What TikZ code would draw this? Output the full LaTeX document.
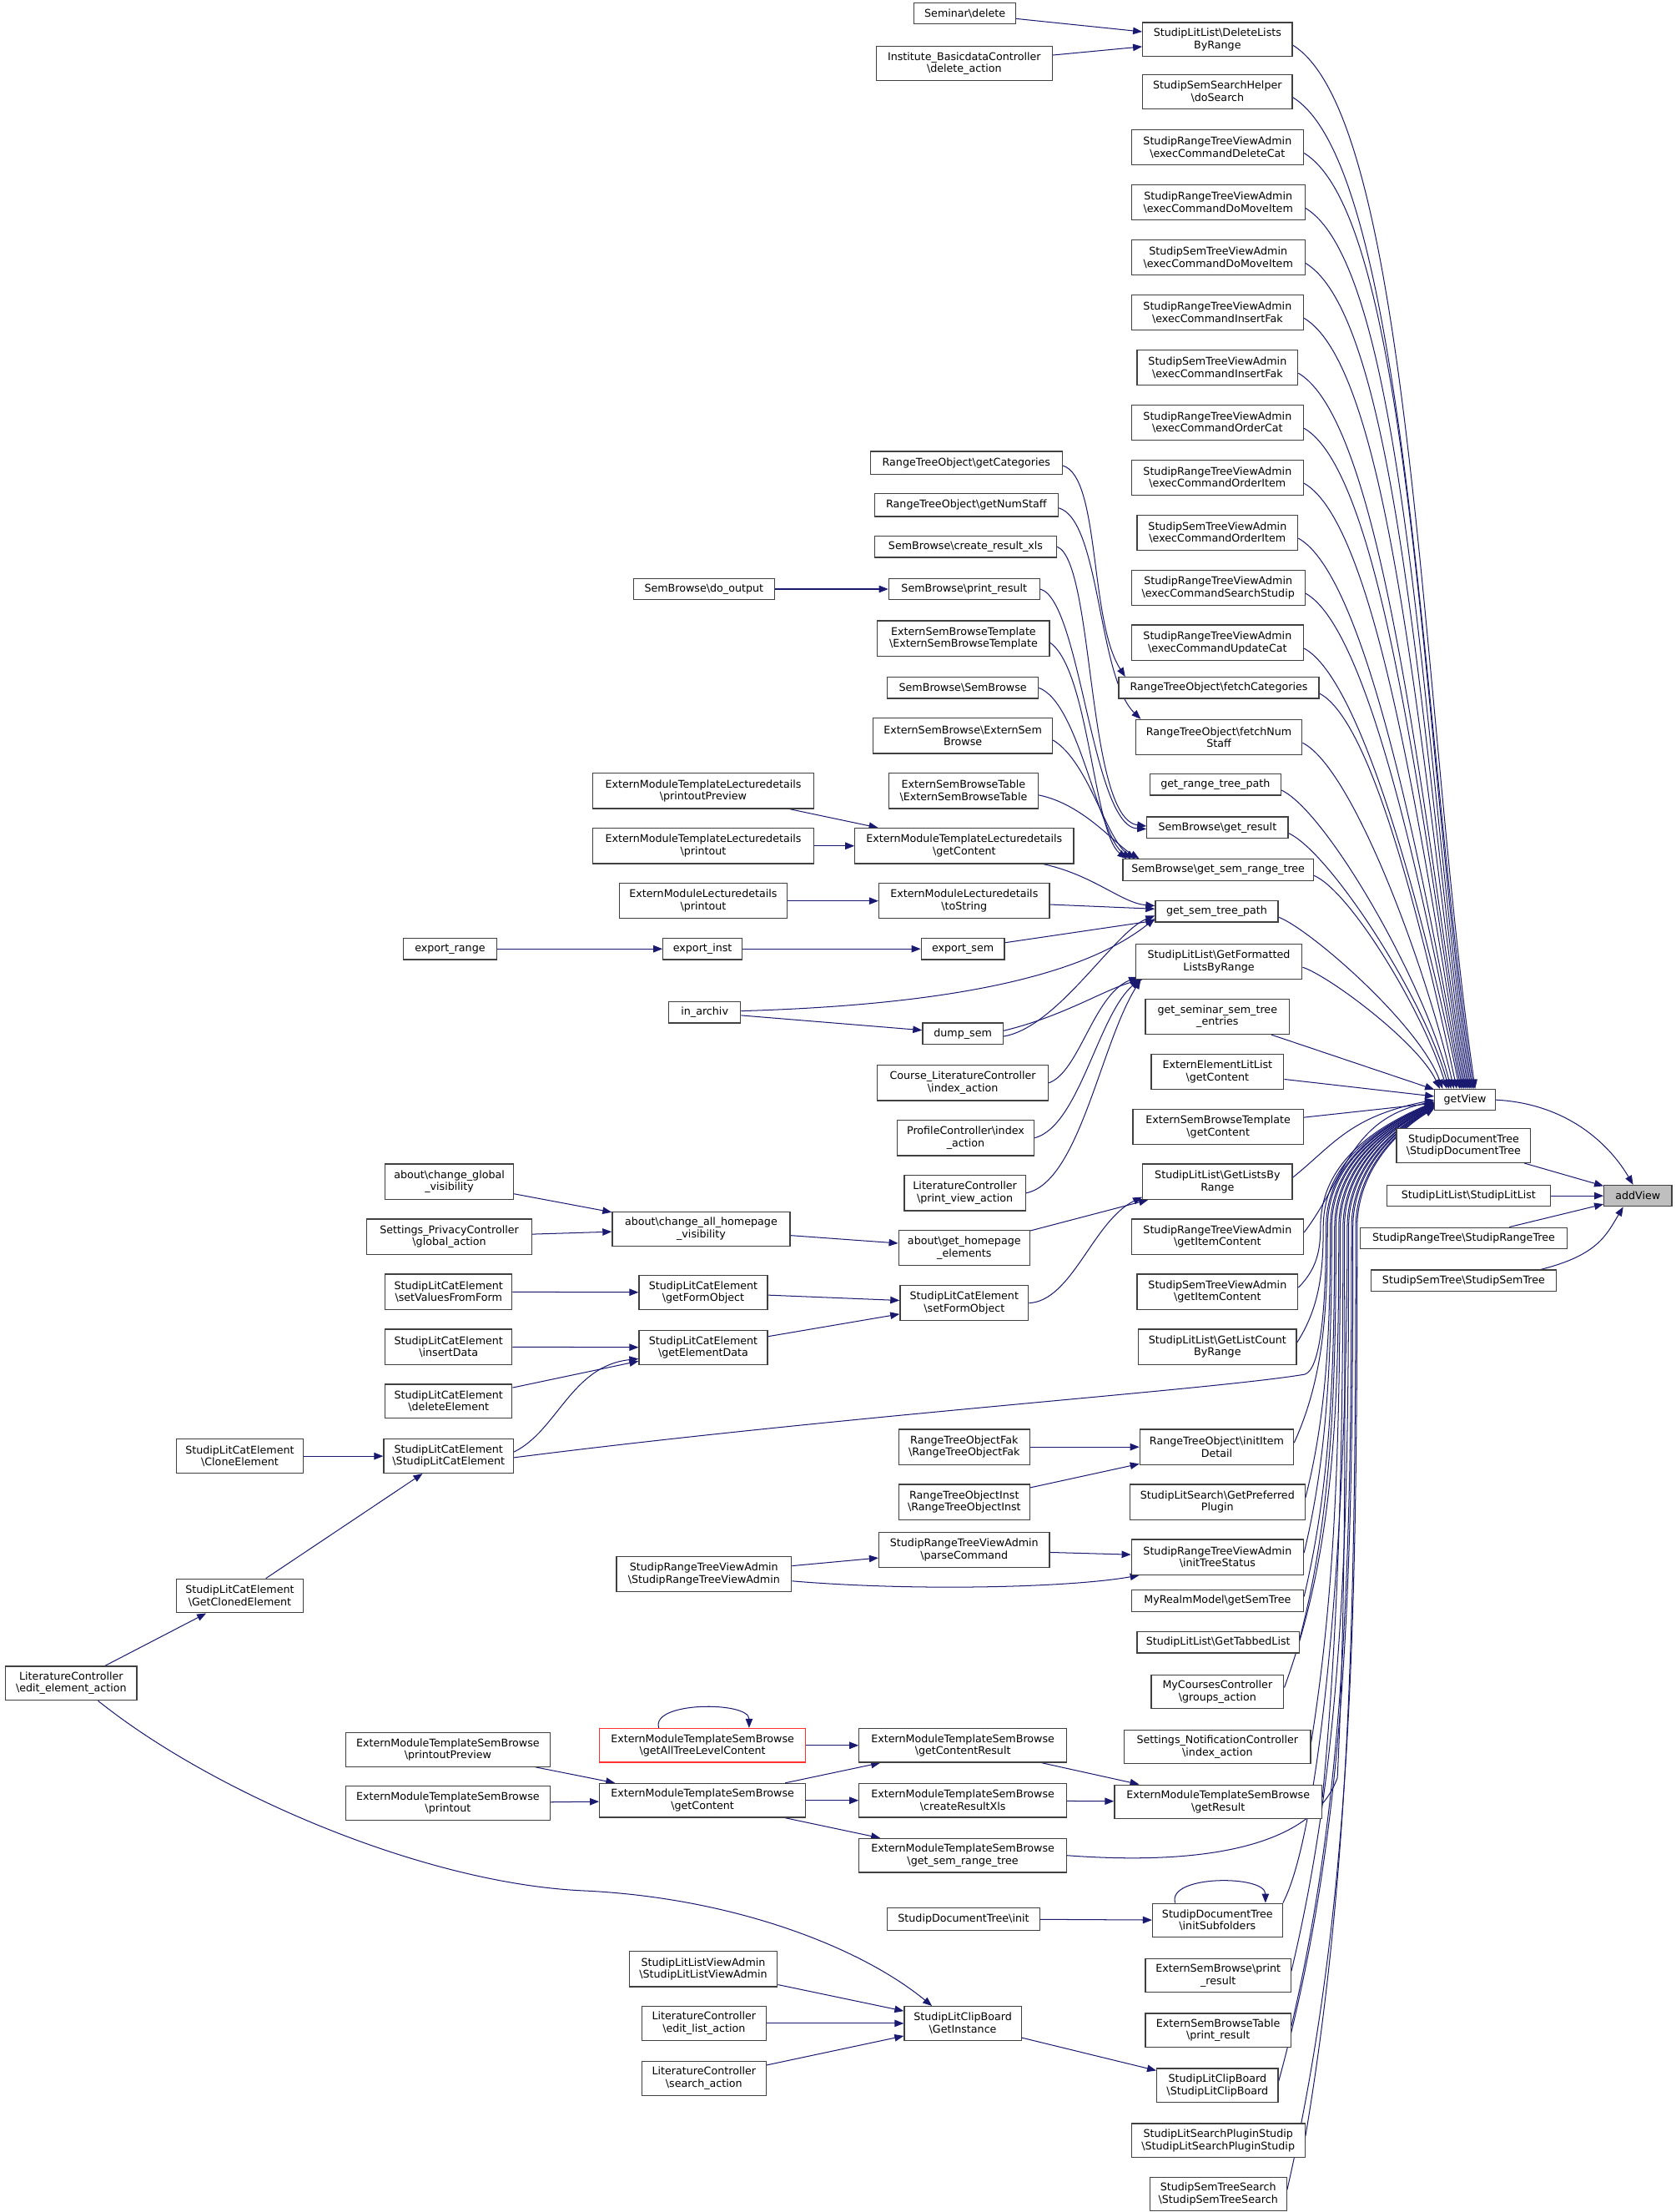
\documentclass[tikz,border=0pt]{standalone}
\usepackage{fontspec}
\newfontfamily\dvs{DejaVu Sans}
\usetikzlibrary{arrows.meta}
\pgfdeclarelayer{edgelayer}
\pgfsetlayers{edgelayer,main}
\definecolor{edgeblue}{HTML}{191970}
\definecolor{nodeborder}{HTML}{404040}
\definecolor{truncred}{HTML}{FF3030}
\newcommand\dgfont{\dvs\fontsize{7.5}{8.6}\selectfont}
\newcommand\bsl{\textbackslash}
\newcommand\bx[6]{\node[bx,minimum width=#4pt,minimum height=#5pt] (#1) at (#2,-#3) {#6};}
\newcommand\upe[3]{\draw[e] ([yshift=-4pt]#1.east) .. controls +({0.1*#3+10},{-0.07*#3}) and +({-0.035*#3-12},{0.36*#3}) .. ([xshift=#2pt]getView.north west);}
\newcommand\loe[3]{\draw[e] ([yshift=3pt]#1.east) .. controls +({28+0.015*#3},{0.4*#3}) and +(-60,{-0.03*#3-10}) .. ([yshift=#2pt]getView.west);}
\newcommand\lwe[4]{\draw[e] ([yshift=3pt]#1.east) .. controls ({#2-3},{-#3+3+0.3*(#3-873)}) and (#2,{-870-0.4*(#3-873)}) .. (#2,-870) .. controls (#2,-835) and ({#2+22},-806) .. ([yshift=#4pt]getView.west);}
\begin{document}
\begin{tikzpicture}[x=1pt,y=1pt,
  bx/.style={draw=nodeborder, line width=0.75pt, fill=white, inner xsep=1pt, inner ysep=0.5pt, align=center, font=\dgfont},
  e/.style={draw=edgeblue, line width=0.6pt, -{Triangle[length=6.5pt,width=5pt]}}]
\useasboundingbox (0,0) rectangle (1188,-1567.7);
% right
\node[bx,fill=black!25,minimum width=48pt,minimum height=15pt] (addView) at (1161,-847.5) {addView};
\bx{getView}{1038.5}{779.5}{43}{15}{getView}
\bx{sdt}{1037.5}{812}{95}{24}{StudipDocumentTree\\\bsl StudipDocumentTree}
\bx{sll}{1041}{847.5}{116}{15}{StudipLitList\bsl StudipLitList}
\bx{srt}{1037.5}{877.5}{147}{15}{StudipRangeTree\bsl StudipRangeTree}
\bx{sst}{1037.5}{907.5}{131}{15}{StudipSemTree\bsl StudipSemTree}
% column 3
\bx{dlbr}{863}{28}{106}{24}{StudipLitList\bsl DeleteLists\\ByRange}
\bx{ssh}{863}{65}{106}{24}{StudipSemSearchHelper\\\bsl doSearch}
\bx{ecdc}{863}{104.5}{122}{25}{StudipRangeTreeViewAdmin\\\bsl execCommandDeleteCat}
\bx{ecdma}{863.5}{143.5}{123}{25}{StudipRangeTreeViewAdmin\\\bsl execCommandDoMoveItem}
\bx{ecdmb}{863.5}{182.5}{123}{25}{StudipSemTreeViewAdmin\\\bsl execCommandDoMoveItem}
\bx{ecifa}{863}{221.5}{122}{25}{StudipRangeTreeViewAdmin\\\bsl execCommandInsertFak}
\bx{ecifb}{863}{260.5}{114}{25}{StudipSemTreeViewAdmin\\\bsl execCommandInsertFak}
\bx{ecoc}{863}{299.5}{122}{25}{StudipRangeTreeViewAdmin\\\bsl execCommandOrderCat}
\bx{ecoia}{863}{338.5}{122}{25}{StudipRangeTreeViewAdmin\\\bsl execCommandOrderItem}
\bx{ecoib}{863}{377.5}{114}{25}{StudipSemTreeViewAdmin\\\bsl execCommandOrderItem}
\bx{ecss}{863.5}{416.5}{123}{25}{StudipRangeTreeViewAdmin\\\bsl execCommandSearchStudip}
\bx{ecuc}{863}{455.5}{122}{25}{StudipRangeTreeViewAdmin\\\bsl execCommandUpdateCat}
\bx{fcat}{864}{487.5}{142}{15}{RangeTreeObject\bsl fetchCategories}
\bx{fns}{864}{522.5}{118}{25}{RangeTreeObject\bsl fetchNum\\Staff}
\bx{grtp}{861.5}{556}{93}{15}{get\_range\_tree\_path}
\bx{sbgr}{863}{586.5}{100}{15}{SemBrowse\bsl get\_result}
\bx{sbgsrt}{863.5}{616.5}{135}{15}{SemBrowse\bsl get\_sem\_range\_tree}
\bx{gstp}{862.5}{646}{87}{15}{get\_sem\_tree\_path}
\bx{gflbr}{864}{681.5}{118}{25}{StudipLitList\bsl GetFormatted\\ListsByRange}
\bx{gsste}{863}{720.5}{102}{25}{get\_seminar\_sem\_tree\\\_entries}
\bx{eell}{863}{759.5}{94}{25}{ExternElementLitList\\\bsl getContent}
\bx{esbtgc}{863.5}{798.5}{121}{25}{ExternSemBrowseTemplate\\\bsl getContent}
\bx{glbr}{863}{837.5}{106}{25}{StudipLitList\bsl GetListsBy\\Range}
\bx{rgic}{863}{876.5}{122}{25}{StudipRangeTreeViewAdmin\\\bsl getItemContent}
\bx{sgic}{863}{915.5}{114}{25}{StudipSemTreeViewAdmin\\\bsl getItemContent}
\bx{glcbr}{863}{954.5}{112}{25}{StudipLitList\bsl GetListCount\\ByRange}
\bx{iid}{862.5}{1025.5}{109}{25}{RangeTreeObject\bsl initItem\\Detail}
\bx{gpp}{863}{1064.5}{124}{25}{StudipLitSearch\bsl GetPreferred\\Plugin}
\bx{its}{863}{1103.5}{122}{25}{StudipRangeTreeViewAdmin\\\bsl initTreeStatus}
\bx{mrm}{863}{1134.5}{122}{15}{MyRealmModel\bsl getSemTree}
\bx{gtl}{863.5}{1164}{115}{15}{StudipLitList\bsl GetTabbedList}
\bx{mcc}{863}{1199}{94}{24}{MyCoursesController\\\bsl groups\_action}
\bx{snc}{863}{1238}{132}{24}{Settings\_NotificationController\\\bsl index\_action}
\bx{gres}{863.5}{1277}{147}{24}{ExternModuleTemplateSemBrowse\\\bsl getResult}
\bx{isf}{863}{1361}{92}{24}{StudipDocumentTree\\\bsl initSubfolders}
\bx{espr}{863.5}{1400}{103}{24}{ExternSemBrowse\bsl print\\\_result}
\bx{esbtpr}{863.5}{1439}{103}{24}{ExternSemBrowseTable\\\bsl print\_result}
\bx{slcb}{863}{1478}{86}{24}{StudipLitClipBoard\\\bsl StudipLitClipBoard}
\bx{slsps}{863.5}{1517}{123}{24}{StudipLitSearchPluginStudip\\\bsl StudipLitSearchPluginStudip}
\bx{ssts}{863.5}{1555}{97}{24}{StudipSemTreeSearch\\\bsl StudipSemTreeSearch}
% column 2
\bx{sdel}{684}{9.5}{72}{15}{Seminar\bsl delete}
\bx{ibc}{683.5}{45}{125}{24}{Institute\_BasicdataController\\\bsl delete\_action}
\bx{rgc}{685}{328}{136}{16}{RangeTreeObject\bsl getCategories}
\bx{rgns}{685}{358}{130}{16}{RangeTreeObject\bsl getNumStaff}
\bx{sbcrx}{684.5}{387.5}{129}{15}{SemBrowse\bsl create\_result\_xls}
\bx{sbpr}{683.5}{417.5}{107}{15}{SemBrowse\bsl print\_result}
\bx{esbt}{683}{452.5}{122}{25}{ExternSemBrowseTemplate\\\bsl ExternSemBrowseTemplate}
\bx{sbsb}{682.5}{487.5}{107}{15}{SemBrowse\bsl SemBrowse}
\bx{esb}{682.5}{521.5}{127}{25}{ExternSemBrowse\bsl ExternSem\\Browse}
\bx{esbtab}{683}{560.5}{106}{25}{ExternSemBrowseTable\\\bsl ExternSemBrowseTable}
\bx{emtlgc}{683.5}{599.5}{155}{25}{ExternModuleTemplateLecturedetails\\\bsl getContent}
\bx{emlts}{683.5}{638.5}{121}{25}{ExternModuleLecturedetails\\\bsl toString}
\bx{esem}{682.5}{672.5}{59}{15}{export\_sem}
\bx{dsem}{682.5}{732.5}{57}{15}{dump\_sem}
\bx{clc}{682.5}{767.5}{121}{25}{Course\_LiteratureController\\\bsl index\_action}
\bx{pc}{684.5}{806.5}{97}{25}{ProfileController\bsl index\\\_action}
\bx{lcpv}{684}{845.5}{86}{25}{LiteratureController\\\bsl print\_view\_action}
\bx{ghe}{683.5}{884.5}{93}{25}{about\bsl get\_homepage\\\_elements}
\bx{sfo}{683.5}{923.5}{91}{25}{StudipLitCatElement\\\bsl setFormObject}
\bx{rtof}{683.5}{1025.5}{93}{25}{RangeTreeObjectFak\\\bsl RangeTreeObjectFak}
\bx{rtoi}{683.5}{1064.5}{93}{25}{RangeTreeObjectInst\\\bsl RangeTreeObjectInst}
\bx{pcmd}{683.5}{1098.5}{121}{25}{StudipRangeTreeViewAdmin\\\bsl parseCommand}
\bx{gcr}{682.5}{1237}{147}{24}{ExternModuleTemplateSemBrowse\\\bsl getContentResult}
\bx{crx}{682.5}{1276}{147}{24}{ExternModuleTemplateSemBrowse\\\bsl createResultXls}
\bx{emgsrt}{682.5}{1315}{147}{24}{ExternModuleTemplateSemBrowse\\\bsl get\_sem\_range\_tree}
\bx{sdti}{683}{1360}{108}{16}{StudipDocumentTree\bsl init}
\bx{gi}{682.5}{1434}{83}{24}{StudipLitClipBoard\\\bsl GetInstance}
% column 1
\bx{sbdo}{499}{417.5}{100}{15}{SemBrowse\bsl do\_output}
\bx{emtlpp}{498.5}{560.5}{157}{25}{ExternModuleTemplateLecturedetails\\\bsl printoutPreview}
\bx{emtlp}{498.5}{599.5}{157}{25}{ExternModuleTemplateLecturedetails\\\bsl printout}
\bx{emlp}{498.5}{638.5}{119}{25}{ExternModuleLecturedetails\\\bsl printout}
\bx{einst}{498}{672.5}{56}{15}{export\_inst}
\bx{inarch}{499.5}{717.5}{51}{15}{in\_archiv}
\bx{cahv}{497}{871}{126}{24}{about\bsl change\_all\_homepage\\\_visibility}
\bx{gfo}{498.5}{916}{91}{24}{StudipLitCatElement\\\bsl getFormObject}
\bx{ged}{498.5}{955}{91}{24}{StudipLitCatElement\\\bsl getElementData}
\bx{srtva}{499}{1115.5}{124}{25}{StudipRangeTreeViewAdmin\\\bsl StudipRangeTreeViewAdmin}
\node[bx,draw=truncred,minimum width=146pt,minimum height=24pt] (gatlc) at (498,-1237) {ExternModuleTemplateSemBrowse\\\bsl getAllTreeLevelContent};
\bx{emgc}{498}{1276}{146}{24}{ExternModuleTemplateSemBrowse\\\bsl getContent}
\bx{sllva}{498.5}{1395.5}{105}{25}{StudipLitListViewAdmin\\\bsl StudipLitListViewAdmin}
\bx{lcel}{499}{1434}{88}{24}{LiteratureController\\\bsl edit\_list\_action}
\bx{lcsa}{499}{1473}{88}{24}{LiteratureController\\\bsl search\_action}
% column 0
\bx{erange}{319}{672.5}{66}{15}{export\_range}
\bx{cgv}{318.5}{837.5}{91}{25}{about\bsl change\_global\\\_visibility}
\bx{spc}{318.5}{876.5}{117}{25}{Settings\_PrivacyController\\\bsl global\_action}
\bx{svff}{318}{915.5}{90}{25}{StudipLitCatElement\\\bsl setValuesFromForm}
\bx{insd}{318}{954.5}{90}{25}{StudipLitCatElement\\\bsl insertData}
\bx{dele}{318}{993}{90}{24}{StudipLitCatElement\\\bsl deleteElement}
\bx{slce}{318}{1032}{92}{24}{StudipLitCatElement\\\bsl StudipLitCatElement}
\bx{emtspp}{317.5}{1240}{145}{24}{ExternModuleTemplateSemBrowse\\\bsl printoutPreview}
\bx{emtsp}{317.5}{1278}{145}{24}{ExternModuleTemplateSemBrowse\\\bsl printout}
% columns -1, -2
\bx{clone}{170}{1032}{90}{24}{StudipLitCatElement\\\bsl CloneElement}
\bx{gcl}{170}{1131}{90}{24}{StudipLitCatElement\\\bsl GetClonedElement}
\bx{eea}{50.5}{1193}{93}{24}{LiteratureController\\\bsl edit\_element\_action}

\begin{pgfonlayer}{edgelayer}
% ===== edges to addView
\draw[e] (getView.east) .. controls +(55,-3) and +(-14,24) .. ([xshift=21pt]addView.north west);
\draw[e] (sdt) -- (addView);
\draw[e] (sll) -- (addView);
\draw[e] (srt) -- (addView);
\draw[e] ([xshift=-11pt]sst.north east) .. controls +(40,10) and +(-12,-20) .. ([xshift=14pt]addView.south west);

% ===== upper group into getView
\upe{dlbr}{29}{744}
\upe{ssh}{28}{707}
\upe{ecdc}{27}{667.5}
\upe{ecdma}{26}{628.5}
\upe{ecdmb}{25}{589.5}
\upe{ecifa}{24}{550.5}
\upe{ecifb}{23}{511.5}
\upe{ecoc}{22}{472.5}
\upe{ecoia}{21}{433.5}
\upe{ecoib}{20}{394.5}
\upe{ecss}{19}{355.5}
\upe{ecuc}{18}{316.5}
\upe{fcat}{16}{284.5}
\upe{fns}{14}{249.5}
\upe{grtp}{12}{216}
\upe{sbgr}{10.5}{185.5}
\upe{sbgsrt}{9}{155.5}
\upe{gstp}{6}{126}
\upe{gflbr}{4}{90.5}
\draw[e] (gsste) -- (getView);
\draw[e] (eell) -- (getView);
\draw[e] (esbtgc) -- (getView);

% ===== lower group into getView
\loe{glbr}{0}{58}
\loe{rgic}{-1}{97}
\lwe{sgic}{936}{915.5}{-1.5}
\lwe{glcbr}{938}{954.5}{-2}
\lwe{iid}{941}{1025.5}{-2.5}
\lwe{gpp}{943}{1064.5}{-3}
\lwe{its}{944}{1103.5}{-3}
\lwe{mrm}{946}{1134.5}{-3.5}
\lwe{gtl}{947}{1164}{-3.5}
\lwe{mcc}{949}{1199}{-4}
\lwe{snc}{950}{1238}{-4}
\lwe{gres}{952}{1277}{-4.5}
\draw[e] (isf.north east) .. controls (935,-1300) and (955,-1100) .. (955,-870) .. controls (955,-835) and (977,-806) .. ([yshift=-4.5pt]getView.west);
\lwe{espr}{956}{1400}{-5}
\lwe{esbtpr}{958}{1439}{-5}
\lwe{slcb}{959}{1478}{-5.5}
\lwe{slsps}{961}{1517}{-5.5}
\lwe{ssts}{962}{1555}{-6}
\draw[e] ([yshift=-1pt]slce.east) .. controls (600,-1003) and (860,-985) .. (925,-974) .. controls (937,-970) and (940,-920) .. (940,-870) .. controls (940,-835) and (962,-806) .. ([yshift=-2pt]getView.west);
\draw[e] (emgsrt.east) .. controls (850,-1322) and (930,-1310) .. (948,-1260) .. controls (955,-1120) and (953,-960) .. (953,-870) .. controls (953,-835) and (975,-806) .. ([yshift=-3pt]getView.west);

% ===== column 2 -> column 3
\draw[e] (sdel) -- (dlbr);
\draw[e] (ibc) -- (dlbr);
\draw[e] ([yshift=-2pt]rgc.east) .. controls (780,-338) and (772,-440) .. ([xshift=5pt]fcat.north west);
\draw[e] ([yshift=-2pt]rgns.east) .. controls (780,-368) and (778,-480) .. ([xshift=4pt]fns.north west);
\draw[e] (sbcrx.east) .. controls (776,-398) and (770,-580) .. ([yshift=1pt]sbgr.west);
\draw[e] (sbpr.east) .. controls (766,-425) and (774,-586) .. ([yshift=-1pt]sbgr.west);
\draw[e] ([yshift=-3pt]esbt.east) .. controls (772,-475) and (775,-590) .. ([xshift=3pt]sbgsrt.north west);
\draw[e] (sbsb.east) .. controls (765,-498) and (778,-592) .. ([xshift=6pt]sbgsrt.north west);
\draw[e] ([yshift=-3pt]esb.east) .. controls (772,-540) and (784,-595) .. ([xshift=9pt]sbgsrt.north west);
\draw[e] ([yshift=-3pt]esbtab.east) .. controls (768,-570) and (790,-598) .. ([xshift=12pt]sbgsrt.north west);
\draw[e] ([xshift=-22pt]emtlgc.south east) .. controls (775,-620) and (795,-640) .. ([yshift=4pt]gstp.west);
\draw[e] (emlts) -- (gstp);
\draw[e] (esem) -- (gstp);
\draw[e] ([yshift=1pt]inarch.east) .. controls (680,-712) and (770,-690) .. ([yshift=-5pt]gstp.west);
\draw[e] ([yshift=-2pt]dsem.east) .. controls (750,-728) and (790,-660) .. ([yshift=-3pt]gstp.west);
\draw[e] ([yshift=2pt]dsem.east) .. controls (755,-720) and (785,-700) .. ([xshift=5pt]gflbr.south west);
\draw[e] (clc.east) .. controls (765,-760) and (775,-705) .. ([xshift=2pt,yshift=2pt]gflbr.south west);
\draw[e] (pc.east) .. controls (765,-798) and (778,-720) .. ([xshift=3pt]gflbr.south west);
\draw[e] (lcpv.east) .. controls (765,-838) and (780,-740) .. ([xshift=4pt]gflbr.south west);
\draw[e] (ghe) -- (glbr);
\draw[e] (sfo.east) .. controls (760,-922) and (775,-865) .. ([yshift=2pt]glbr.south west);
\draw[e] (rtof) -- (iid);
\draw[e] (rtoi) -- (iid);
\draw[e] (pcmd) -- (its);
\draw[e] ([yshift=-5pt]srtva.east) .. controls (650,-1128) and (760,-1125) .. ([xshift=6pt]its.south west);
\draw[e] (gcr) -- (gres);
\draw[e] (crx) -- (gres);
\draw[e] (sdti) -- (isf);
\draw[e] ([xshift=-30pt]isf.north) .. controls +(-6,20) and +(0,20) .. ([xshift=34pt]isf.north);
\draw[e] (gi) -- (slcb);

% ===== column 1 -> column 2
\draw[e] (sbdo) -- (sbpr);
\draw[e] (emtlpp) -- (emtlgc);
\draw[e] (emtlp) -- (emtlgc);
\draw[e] (emlp) -- (emlts);
\draw[e] (einst) -- (esem);
\draw[e] (inarch) -- (dsem);
\draw[e] (cahv) -- (ghe);
\draw[e] (gfo) -- (sfo);
\draw[e] (ged) -- (sfo);
\draw[e] (srtva) -- (pcmd);
\draw[e] (gatlc) -- (gcr);
\draw[e] ([xshift=-31pt]gatlc.north) .. controls +(-6,19) and +(0,19) .. ([xshift=33pt]gatlc.north);
\draw[e] (emgc) -- (gcr);
\draw[e] (emgc) -- (crx);
\draw[e] (emgc) -- (emgsrt);
\draw[e] (sllva) -- (gi);
\draw[e] (lcel) -- (gi);
\draw[e] (lcsa) -- (gi);

% ===== column 0 -> column 1
\draw[e] (erange) -- (einst);
\draw[e] (cgv) -- (cahv);
\draw[e] (spc) -- (cahv);
\draw[e] (svff) -- (gfo);
\draw[e] (insd) -- (ged);
\draw[e] (dele) -- (ged);
\draw[e] ([yshift=3pt]slce.east) .. controls (395,-1014) and (405,-968) .. ([yshift=-8pt]ged.west);
\draw[e] (emtspp) -- (emgc);
\draw[e] (emtsp) -- (emgc);

% ===== left columns
\draw[e] (clone) -- (slce);
\draw[e] (gcl) -- (slce);
\draw[e] (eea) -- (gcl);
\draw[e] ([xshift=19pt]eea.south) .. controls (150,-1270) and (300,-1335) .. (414,-1340) .. controls (520,-1345) and (610,-1380) .. ([xshift=20pt]gi.north west);
\end{pgfonlayer}
\end{tikzpicture}
\end{document}
